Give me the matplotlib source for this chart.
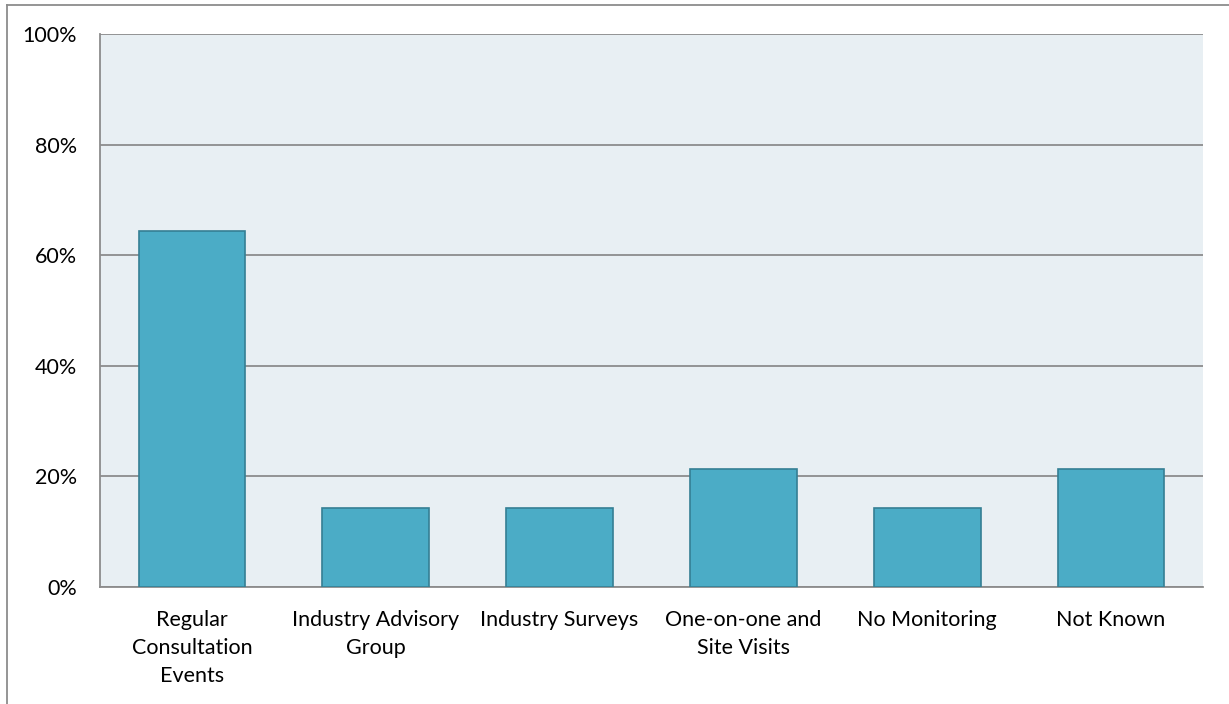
import matplotlib
matplotlib.use("Agg")
import matplotlib.pyplot as plt
from matplotlib.lines import Line2D
from matplotlib.ticker import FuncFormatter

categories = ["Regular\nConsultation\nEvents", "Industry Advisory\nGroup", "Industry Surveys",
              "One-on-one and\nSite Visits", "No Monitoring", "Not Known"]
values = [64.3, 14.3, 14.3, 21.4, 14.3, 21.4]
yticks = [0, 20, 40, 60, 80, 100]

plt.rcParams['font.family'] = ['Lato', 'DejaVu Sans']

fig = plt.figure(figsize=(12.29, 7.04), dpi=100)
ax = fig.add_axes([100/1229, 1 - 587/704, 1103/1229, (587-34)/704])
ax.set_facecolor('#E8EFF3')

x = list(range(len(categories)))
ax.bar(x, values, width=0.58, color='#4BACC6', edgecolor='#357F94', linewidth=1.2, zorder=3)
ax.set_xlim(-0.5, len(categories) - 0.5)
ax.set_ylim(0, 100)
ax.set_yticks(yticks)
ax.yaxis.set_major_formatter(FuncFormatter(lambda v, p: f"{v:.0f}%"))
ax.set_xticks(x)
ax.set_xticklabels(categories, fontsize=15.5, linespacing=1.49, va='top')
ax.tick_params(axis='y', length=0, pad=16.5, labelsize=15.5)
ax.tick_params(axis='x', length=0, pad=16.5)
ax.grid(axis='y', color='#8C8C8C', linewidth=1.3, zorder=1)
for s in ['top', 'right']:
    ax.spines[s].set_visible(False)
ax.spines['bottom'].set_color('#8C8C8C')
ax.spines['bottom'].set_linewidth(1.3)
ax.spines['left'].set_color('#8C8C8C')
ax.spines['left'].set_linewidth(1.3)

# outer chart border (top and left)
fig.add_artist(Line2D([7/1229, 1], [1 - 5/704, 1 - 5/704], transform=fig.transFigure, color='#8C8C8C', linewidth=1.3))
fig.add_artist(Line2D([7/1229, 7/1229], [0, 1 - 5/704], transform=fig.transFigure, color='#8C8C8C', linewidth=1.3))

fig.savefig("out.png", dpi=100)
